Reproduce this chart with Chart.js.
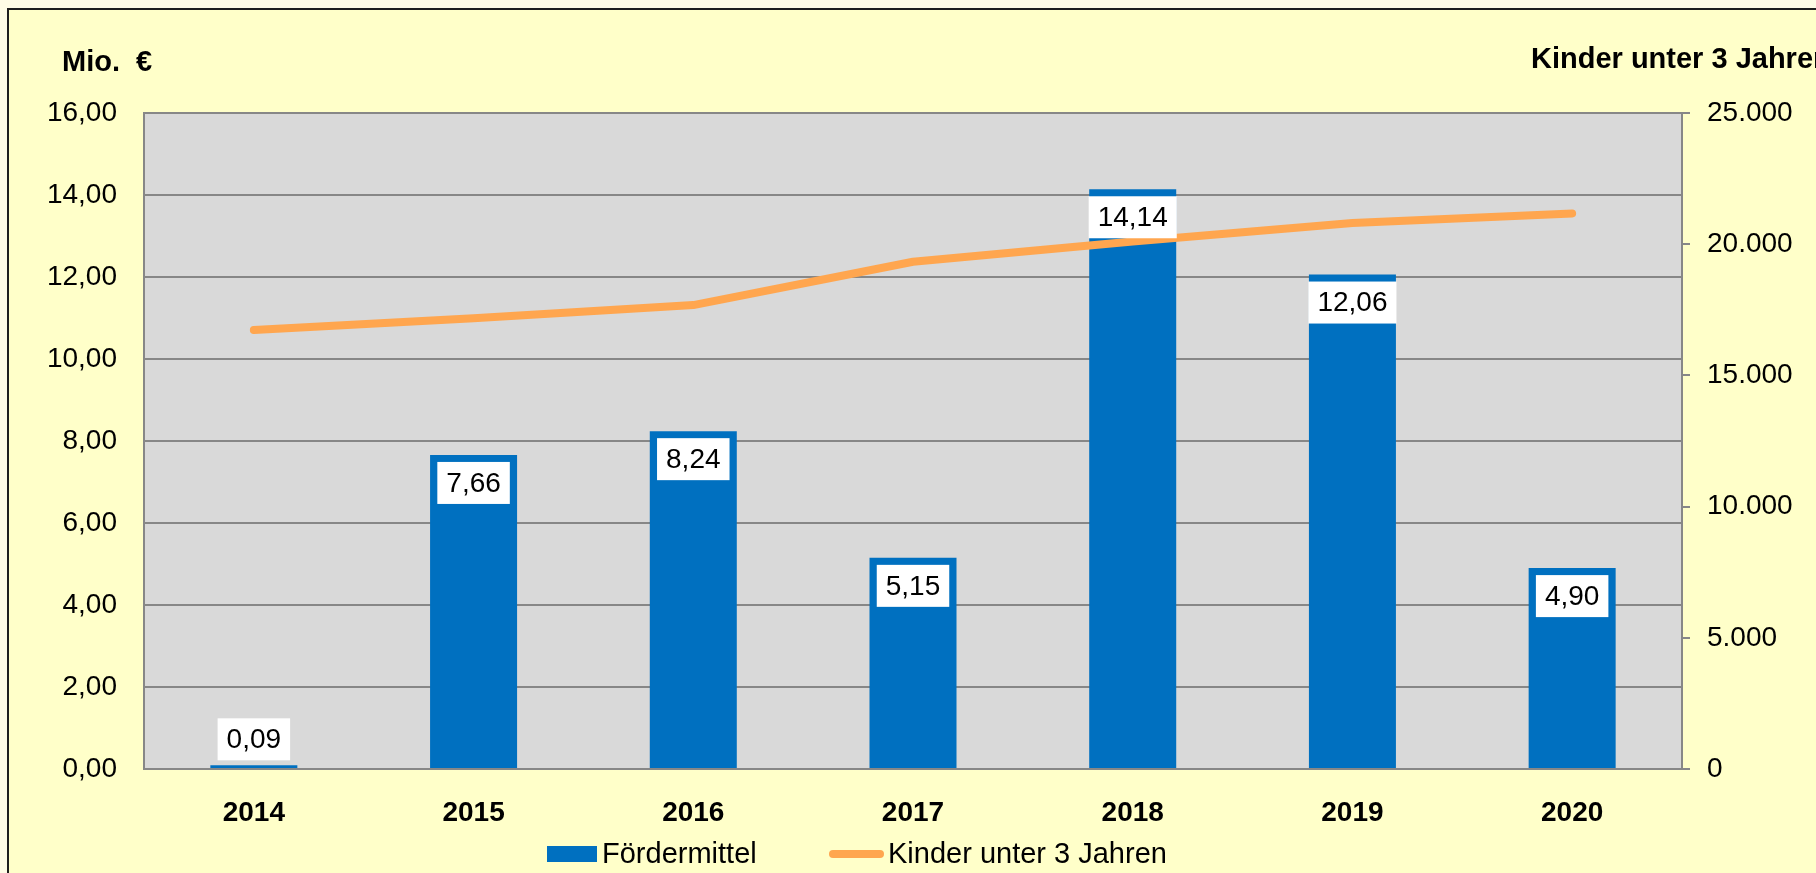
<!DOCTYPE html>
<html lang="de">
<head>
<meta charset="utf-8">
<title>Fördermittel und Kinder unter 3 Jahren</title>
<script src="https://cdn.jsdelivr.net/npm/chart.js@4.4.1/dist/chart.umd.min.js"></script>
<style>
  html, body { margin: 0; padding: 0; background: #fffce6; overflow: hidden; }
  #chart { display: block; }
</style>
</head>
<body>
<canvas id="chart" width="1816" height="873"></canvas>
<script>
// ── Daten ─────────────────────────────────────────────────────
const jahre         = ['2014', '2015', '2016', '2017', '2018', '2019', '2020'];
const foerdermittel = [0.09, 7.66, 8.24, 5.15, 14.14, 12.06, 4.90];          // Mio. €
const kinderU3      = [16730, 17180, 17680, 19330, 20100, 20810, 21170];     // Anzahl
const titelLinks    = 'Mio.  €';
const titelRechts   = 'Kinder unter 3 Jahren';
const legendeText   = ['Fördermittel', 'Kinder unter 3 Jahren'];

// ── Farben / Schrift ──────────────────────────────────────────
const FONT      = '"Liberation Sans", Arial, sans-serif';
const C_BAR     = '#0070c0';
const C_LINE    = '#ffa64f';
const C_GRID    = '#878787';
const C_PLOT    = '#d9d9d9';
const C_FRAME   = '#ffffc9';
const C_OUTSIDE = '#fffce6';

// ── Helpers ───────────────────────────────────────────────────
function fmtMio(v) {
  return Number(v).toFixed(2).replace('.', ',');
}

function fmtTsd(v) {
  return String(Math.round(v)).replace(/\B(?=(\d{3})+(?!\d))/g, '.');
}

// ── Plugins ───────────────────────────────────────────────────
// Rahmen, gelber Hintergrund und grauer Zeichenbereich
const hintergrund = {
  id: 'hintergrund',
  beforeDraw(chart) {
    const { ctx, width, height, chartArea: a } = chart;
    ctx.save();
    ctx.fillStyle = C_OUTSIDE;
    ctx.fillRect(0, 0, width, height);
    ctx.fillStyle = C_FRAME;
    ctx.fillRect(8, 9, width - 8, height - 9);
    ctx.fillStyle = '#1e1e1e';
    ctx.fillRect(7, 8, 2, height - 8);
    ctx.fillRect(7, 8, width - 7, 2);
    ctx.fillStyle = C_PLOT;
    ctx.fillRect(a.left, a.top, a.right - a.left, a.bottom - a.top);
    ctx.restore();
  },
};

// Weisse Wertekästchen an den Säulen
const werte = {
  id: 'werte',
  afterDatasetsDraw(chart) {
    const { ctx } = chart;
    const meta = chart.getDatasetMeta(0);
    ctx.save();
    ctx.font = `28px ${FONT}`;
    meta.data.forEach((bar, i) => {
      const txt = fmtMio(foerdermittel[i]);
      const w = ctx.measureText(txt).width + 18;
      const h = 42;
      const innen = bar.base - bar.y > h + 14;
      const top = innen ? bar.y + 7 : bar.y - 5 - h;
      ctx.fillStyle = '#ffffff';
      ctx.fillRect(bar.x - w / 2, top, w, h);
      ctx.fillStyle = '#000000';
      ctx.textAlign = 'center';
      ctx.textBaseline = 'middle';
      ctx.fillText(txt, bar.x, top + h / 2 + 1);
    });
    ctx.restore();
  },
};

// Achsentitel und Legende
const beschriftung = {
  id: 'beschriftung',
  afterDraw(chart) {
    const { ctx } = chart;
    const ds = chart.data.datasets;
    ctx.save();
    ctx.fillStyle = '#000000';
    ctx.textAlign = 'left';
    ctx.textBaseline = 'alphabetic';
    ctx.font = `bold 29px ${FONT}`;
    ctx.fillText(titelLinks, 62, 71);
    ctx.fillText(titelRechts, 1531, 68);

    // Legende
    const ly = 854;
    ctx.font = `29px ${FONT}`;
    ctx.textBaseline = 'middle';
    ctx.fillStyle = ds[0].backgroundColor;
    ctx.fillRect(547, ly - 8, 50, 16);
    ctx.fillStyle = '#000000';
    ctx.fillText(ds[0].label, 602, ly + 1);

    ctx.strokeStyle = ds[1].borderColor;
    ctx.lineWidth = 8;
    ctx.lineCap = 'round';
    ctx.beginPath();
    ctx.moveTo(833, ly);
    ctx.lineTo(880, ly);
    ctx.stroke();
    ctx.fillText(ds[1].label, 888, ly + 1);
    ctx.restore();
  },
};

// ── Chart ─────────────────────────────────────────────────────
new Chart(document.getElementById('chart'), {
  type: 'bar',
  data: {
    labels: jahre,
    datasets: [
      {
        type: 'bar',
        label: legendeText[0],
        data: foerdermittel,
        backgroundColor: C_BAR,
        borderWidth: 0,
        categoryPercentage: 1,
        barPercentage: 0.396,
        yAxisID: 'y',
        order: 1,
      },
      {
        type: 'line',
        label: legendeText[1],
        data: kinderU3,
        borderColor: C_LINE,
        borderWidth: 8,
        borderCapStyle: 'round',
        borderJoinStyle: 'round',
        pointRadius: 0,
        tension: 0,
        fill: false,
        yAxisID: 'y2',
        order: 0,
      },
    ],
  },
  options: {
    responsive: false,
    animation: false,
    devicePixelRatio: 1,
    layout: { padding: { top: 113, left: 0, right: 0, bottom: 0 } },
    plugins: {
      legend:  { display: false },
      tooltip: { enabled: false },
    },
    scales: {
      x: {
        offset: true,
        grid:   { display: false },
        border: { display: true, color: C_GRID, width: 2 },
        ticks:  { color: '#000', padding: 19, maxRotation: 0, font: { family: FONT, size: 28, weight: 'bold' } },
        afterFit(s) { s.height = 104; },
      },
      y: {
        position: 'left',
        min: 0,
        max: 16,
        grid:   { color: C_GRID, lineWidth: 2, drawTicks: false },
        border: { display: true, color: C_GRID, width: 2 },
        ticks:  {
          stepSize: 2,
          padding: 27,
          color: '#000',
          font: { family: FONT, size: 28 },
          callback: v => fmtMio(v),
        },
        afterFit(s) { s.width = 144; },
      },
      y2: {
        position: 'right',
        min: 0,
        max: 25000,
        grid:   { drawOnChartArea: false, drawTicks: true, tickLength: 8, color: C_GRID, lineWidth: 2 },
        border: { display: true, color: C_GRID, width: 2 },
        ticks:  {
          stepSize: 5000,
          padding: 17,
          color: '#000',
          font: { family: FONT, size: 28 },
          callback: v => fmtTsd(v),
        },
        afterFit(s) { s.width = 134; },
      },
    },
  },
  plugins: [hintergrund, werte, beschriftung],
});
</script>
</body>
</html>
